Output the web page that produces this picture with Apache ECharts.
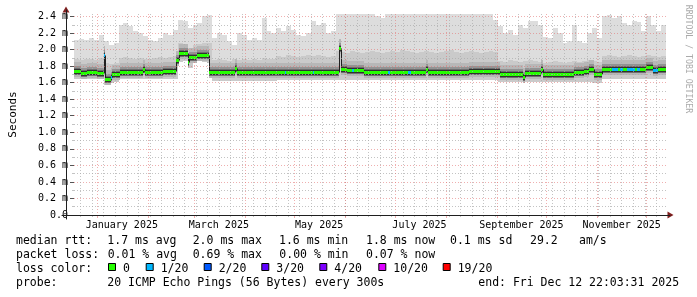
<!DOCTYPE html>
<html><head><meta charset="utf-8">
<script src="https://cdn.jsdelivr.net/npm/echarts@6/dist/echarts.min.js"></script>
<style>html,body{margin:0;padding:0;background:#fff}#c{width:697px;height:297px}</style>
</head><body><div id="c"></div>
<script>
// ---------- data ----------
const startTime = '2024-12-17 22:03:31';
const endTime = '2025-12-12 22:03:31';
const binStart = '2024-12-18';
const binDays = 3;

const smokeMax = [2.12,2.13,2.12,2.14,2.12,2.18,2.10,2.06,2.08,2.30, 2.32,2.28,2.22,2.20,2.16,2.12,2.10,2.14,2.20,2.18,
  2.24,2.36,2.35,2.26,2.30,2.32,2.40,2.42,2.14,2.20, 2.18,2.10,2.05,2.20,2.18,2.12,2.14,2.12,2.38,2.22,
  2.20,2.26,2.22,2.28,2.24,2.18,2.16,2.20,2.34,2.30, 2.32,2.20,2.22,2.43,2.43,2.43,2.43,2.43,2.43,2.43,
  2.43,2.40,2.38,2.43,2.43,2.43,2.43,2.43,2.43,2.43, 2.43,2.43,2.43,2.43,2.43,2.43,2.43,2.43,2.43,2.43,
  2.43,2.43,2.43,2.43,2.43,2.36,2.28,2.20,2.24,2.18, 2.30,2.26,2.34,2.35,2.30,2.15,2.14,2.26,2.20,2.08,
  2.10,2.30,2.10,2.08,2.20,2.26,2.14,2.40,2.42,2.38, 2.40,2.32,2.30,2.34,2.33,2.22,2.40,2.30,2.22,2.30];
const smokeUpper = [1.88,1.87,1.89,1.88,1.87,1.90,1.84,1.82,1.84,1.90, 1.91,1.90,1.89,1.90,1.88,1.89,1.90,1.91,1.90,1.91,
  1.92,2.08,2.07,2.02,2.06,2.07,2.08,2.08,1.87,1.88, 1.87,1.86,1.88,1.87,1.88,1.87,1.88,1.87,1.90,1.88,
  1.88,1.92,1.91,1.93,1.92,1.91,1.92,1.93,1.92,1.94, 1.92,1.91,1.92,1.98,1.97,1.96,1.98,1.97,1.96,1.97,
  1.98,1.97,1.96,1.97,1.98,1.97,1.99,1.98,1.97,1.96, 1.97,1.98,1.97,1.96,1.97,1.98,1.99,1.97,1.96,1.97,
  1.98,1.97,1.96,1.97,1.98,1.97,1.86,1.85,1.87,1.86, 1.85,1.86,1.87,1.86,1.85,1.84,1.85,1.86,1.85,1.84,
  1.85,1.86,1.85,1.86,1.87,1.86,1.85,1.92,1.93,1.92, 1.91,1.92,1.93,1.92,1.91,1.92,1.94,1.92,1.91,1.92];
const smokeMin = [1.65,1.65,1.65,1.65,1.65,1.65,1.57,1.59,1.61,1.64, 1.64,1.64,1.64,1.64,1.64,1.64,1.64,1.64,1.64,1.64,
  1.64,1.85,1.86,1.78,1.85,1.86,1.85,1.84,1.62,1.62, 1.62,1.62,1.62,1.62,1.62,1.62,1.62,1.62,1.62,1.62,
  1.62,1.63,1.63,1.63,1.63,1.63,1.63,1.63,1.63,1.63, 1.63,1.63,1.63,1.63,1.63,1.63,1.63,1.63,1.63,1.63,
  1.63,1.63,1.63,1.63,1.63,1.63,1.63,1.63,1.63,1.63, 1.63,1.63,1.63,1.63,1.63,1.63,1.63,1.63,1.63,1.63,
  1.63,1.63,1.63,1.63,1.63,1.63,1.61,1.61,1.61,1.61, 1.61,1.61,1.61,1.61,1.61,1.61,1.61,1.61,1.61,1.61,
  1.61,1.61,1.61,1.61,1.61,1.60,1.60,1.65,1.65,1.65, 1.65,1.65,1.65,1.65,1.65,1.65,1.65,1.65,1.65,1.65];

const medianDates = ['2024-12-17 22:03','2024-12-22','2024-12-26','2025-01-01','2025-01-05','2025-01-06','2025-01-09 12:00','2025-01-10',
  '2025-01-15','2025-01-29','2025-01-30','2025-02-10','2025-02-18','2025-02-20','2025-02-25','2025-02-26','2025-03-03','2025-03-10',
  '2025-03-26','2025-03-27','2025-04-14','2025-04-25','2025-04-26','2025-05-12','2025-05-13','2025-05-28','2025-05-29','2025-06-02',
  '2025-06-05','2025-06-06','2025-06-12','2025-06-27','2025-06-28','2025-07-09','2025-07-11','2025-07-20','2025-07-21','2025-08-15',
  '2025-09-03','2025-09-17','2025-09-18','2025-09-28','2025-09-29','2025-10-18','2025-10-24','2025-10-27','2025-10-30','2025-11-04',
  '2025-11-10','2025-11-14','2025-11-15','2025-11-17','2025-11-19','2025-11-24','2025-11-25','2025-11-27','2025-12-01','2025-12-05',
  '2025-12-08','2025-12-09'];
const medianValues = [1.74,1.72,1.73,1.72,1.94,1.65,1.67,1.70,
  1.725,1.77,1.73,1.745,1.87,1.955,1.85,1.915,1.94,1.73,
  1.78,1.725,1.73,1.73,1.73,1.725,1.725,2.02,1.76,1.75,
  1.75,1.75,1.73,1.73,1.73,1.73,1.73,1.77,1.73,1.745,
  1.705,1.67,1.72,1.76,1.705,1.725,1.74,1.76,1.705,1.76,
  1.76,1.76,1.765,1.76,1.765,1.76,1.765,1.76,1.79,1.755,
  1.76,1.765];
const medianLoss = [0,0,0,0,1,0,1,0, 0,0,0,0,0,0,0,0,0,0, 0,0,0,1,0,1,0,0,0,0, 1,0,0,1,0,1,0,0,0,0,
  0,0,0,0,0,0,0,0,0,0, 1,0,1,0,1,0,1,0,0,1, 0,0];

const lossColors = ['#26ff00','#00b8ff','#0059ff','#5e00ff','#7e00ff','#dd00ff','#ff0000'];
const lossLabels = ['0','1/20','2/20','3/20','4/20','10/20','19/20'];

const yTickValues = [0,0.2,0.4,0.6,0.8,1.0,1.2,1.4,1.6,1.8,2.0,2.2,2.4];
const yTickLabels = ['0.0','0.2 m','0.4 m','0.6 m','0.8 m','1.0 m','1.2 m','1.4 m','1.6 m','1.8 m','2.0 m','2.2 m','2.4 m'];
const yMinorValues = [0.1,0.3,0.5,0.7,0.9,1.1,1.3,1.5,1.7,1.9,2.1,2.3];
const yMax = 2.43;

const monthStarts = ['2025-01-01','2025-02-01','2025-03-01','2025-04-01','2025-05-01','2025-06-01',
  '2025-07-01','2025-08-01','2025-09-01','2025-10-01','2025-11-01','2025-12-01'];
const firstWeekLine = '2024-12-22';
const xLabelDates = ['2025-01-16','2025-03-16','2025-05-16','2025-07-16','2025-09-16','2025-11-16'];
const xLabels = ['January 2025','March 2025','May 2025','July 2025','September 2025','November 2025'];

const legendRows = [
  ['median rtt:','1.7 ms avg','2.0 ms max','1.6 ms min','1.8 ms now','0.1 ms sd','29.2','am/s'],
  ['packet loss:','0.01 % avg','0.69 % max','0.00 % min','0.07 % now'],
  ['probe:','20 ICMP Echo Pings (56 Bytes) every 300s','end: Fri Dec 12 22:03:31 2025']
];
const lossTitle = 'loss color:';
const watermark = 'RRDTOOL / TOBI OETIKER';
const yAxisName = 'Seconds';

// ---------- layout / style ----------
const legendRowX = [[16,107.3,192.7,279,366,450,530,579],[16,107.7,192.7,279.3,366],[16,107.3,478.3]];
const legendRowY = [241,255,283];
const lossRowY = 269;
const lossBoxX = [108,145.7,203.7,261.3,319.3,378.3,442.7];
const gridCol = 'rgba(170,170,170,0.7)';
const mgridCol = 'rgba(225,110,110,0.55)';
const arrowCol = '#801f1f';
const axisCol = '#1f1f1f';
const mono = '"DejaVu Sans Mono", monospace';
const legendFont = '11.5px ' + mono;
const dots = {type:[1,2], cap:'butt', width:1};

function T(s){
  const m = s.match(/^(\d{4})-(\d{2})-(\d{2})(?: (\d{2}):(\d{2})(?::(\d{2}))?)?$/);
  return new Date(+m[1], +m[2]-1, +m[3], +(m[4]||0), +(m[5]||0), +(m[6]||0)).getTime();
}
const DAY = 86400000;
const tStart = T(startTime), tEnd = T(endTime);
const binTs = smokeMax.map((_, i) => T(binStart) + i * binDays * DAY);
const medTs = medianDates.map(T);
const monthTs = monthStarts.map(T);
const weekTs = [];
for (let t = T(firstWeekLine); t < tEnd; t += 7 * DAY) weekTs.push(t);
const xLabelTs = xLabelDates.map(T);

function nearestIdx(arr, v){ let b = 0; arr.forEach((a, i) => { if (Math.abs(a - v) < Math.abs(arr[b] - v)) b = i; }); return b; }

const smokeData = binTs.map((t, i) => [t, smokeMin[i], smokeUpper[i], smokeMax[i]]);
const medData = medTs.map((t, i) => [t, medianValues[i], medianLoss[i]]);

function renderSmoke(params, api){
  const i = params.dataIndex, cs = params.coordSys;
  const xa = Math.round(api.coord([binTs[i], 0])[0]);
  const xb = Math.round(i + 1 < binTs.length ? api.coord([binTs[i+1], 0])[0] : cs.x + cs.width);
  const py = v => Math.max(cs.y, Math.round(api.coord([binTs[i], v])[1]));
  const yMx = py(api.value(3)), yUp = py(api.value(2)), yMn = py(api.value(1));
  return {type:'group', children:[
    {type:'rect', shape:{x:xa, y:yMx, width:xb-xa, height:yMn-yMx}, style:{fill:'#dddddd'}},
    {type:'rect', shape:{x:xa, y:yUp, width:xb-xa, height:yMn-yUp}, style:{fill:'#cacaca'}}
  ]};
}
function renderMedian(params, api){
  const i = params.dataIndex, cs = params.coordSys;
  const xa = Math.round(api.coord([medTs[i], 0])[0]);
  const xb = Math.round(i + 1 < medTs.length ? api.coord([medTs[i+1], 0])[0] : cs.x + cs.width);
  const w = Math.max(1, xb - xa);
  const y = Math.round(api.coord([medTs[i], api.value(1)])[1]);
  const col = lossColors[api.value(2)];
  const ch = [
    {type:'rect', shape:{x:xa, y:y-9, width:w, height:15}, style:{fill:'#b7b7b7'}},
    {type:'rect', shape:{x:xa, y:y-5, width:w, height:9}, style:{fill:'#939393'}},
    {type:'rect', shape:{x:xa, y:y-3, width:w, height:7}, style:{fill:'#6e6e6e'}},
    {type:'rect', shape:{x:xa, y:y-2, width:w, height:5}, style:{fill:'#303030'}}
  ];
  if (i > 0) {
    const yp = Math.round(api.coord([medTs[i], medianValues[i-1]])[1]);
    ch.push({type:'line', shape:{x1:xa+0.5, y1:yp+0.5, x2:xa+0.5, y2:y+0.5}, style:{stroke:'#202020', lineWidth:1}});
  }
  ch.push({type:'rect', shape:{x:xa, y:y-1, width:w, height:3}, style:{fill:col}});
  return {type:'group', children:ch};
}

const off = {show:false};
const graphics = [];
legendRows.forEach((row, r) => row.forEach((txt, k) => graphics.push({
  type:'text', x:legendRowX[r][k], y:legendRowY[r], silent:true,
  style:{text:txt, font:legendFont, fill:'#000', align:'left', verticalAlign:'middle'}
})));
graphics.push({type:'text', x:16, y:lossRowY, silent:true, style:{text:lossTitle, font:legendFont, fill:'#000', verticalAlign:'middle'}});
lossLabels.forEach((lab, k) => {
  graphics.push({type:'rect', silent:true, shape:{x:lossBoxX[k]+0.5, y:lossRowY-5.5, width:7, height:7},
    style:{fill:lossColors[k], stroke:'#000', lineWidth:1}});
  graphics.push({type:'text', x:lossBoxX[k]+15, y:lossRowY, silent:true,
    style:{text:lab, font:legendFont, fill:'#000', verticalAlign:'middle'}});
});
graphics.push({type:'text', x:688, y:59, rotation:-Math.PI/2, silent:true,
  style:{text:watermark, font:'8.2px ' + mono, fill:'#aaaaaa', align:'center', verticalAlign:'middle'}});

const chart = echarts.init(document.getElementById('c'), null, {renderer:'canvas'});
chart.setOption({
  animation:false,
  backgroundColor:'#ffffff',
  grid:[
    {left:66, right:31, top:14, bottom:82},
    {left:62, right:27, top:14, bottom:82},
    {left:66, right:31, top:10, bottom:78}
  ],
  xAxis:[
    {gridIndex:0, position:'bottom', type:'value', min:tStart, max:tEnd, z:10, axisLine:off, axisTick:off, splitLine:off,
     axisLabel:{customValues:xLabelTs, formatter:v => xLabels[nearestIdx(xLabelTs, v)], margin:5,
       fontFamily:mono, fontSize:10, color:'#000', hideOverlap:false}},
    {gridIndex:0, position:'bottom', type:'value', min:tStart, max:tEnd, z:10, axisLine:off, axisLabel:off,
     axisTick:{show:true, customValues:weekTs, length:2, lineStyle:{color:gridCol}},
     splitLine:{show:true, lineStyle:Object.assign({color:gridCol}, dots)}},
    {gridIndex:0, position:'bottom', type:'value', min:tStart, max:tEnd, z:10, axisLine:off, axisLabel:off,
     axisTick:{show:true, customValues:monthTs, length:3, lineStyle:{color:mgridCol}},
     splitLine:{show:true, lineStyle:Object.assign({color:mgridCol}, dots)}},
    {gridIndex:1, position:'bottom', type:'value', min:0, max:1, z:11, axisTick:off, axisLabel:off, splitLine:off,
     axisLine:{show:true, lineStyle:{color:arrowCol, width:0}, symbol:['none','triangle'], symbolSize:[7,6], symbolOffset:[0,0.5]}},
    {gridIndex:1, position:'bottom', type:'value', min:0, max:1, z:12, axisTick:off, axisLabel:off, splitLine:off,
     axisLine:{show:true, lineStyle:{color:axisCol, width:1}}},
    {gridIndex:2, position:'bottom', type:'value', min:0, max:1, show:false}
  ],
  yAxis:[
    {gridIndex:0, position:'left', type:'value', min:0, max:yMax, z:10, axisLine:off,
     name:yAxisName, nameLocation:'middle', nameGap:55,
     nameTextStyle:{fontFamily:mono, fontSize:11, color:'#000'},
     axisTick:{show:true, customValues:yTickValues, length:4, lineStyle:{color:'#555'}},
     axisLabel:{customValues:yTickValues, formatter:v => yTickLabels[nearestIdx(yTickValues, v)], margin:6,
       fontFamily:mono, fontSize:10, color:'#000'},
     splitLine:{show:true, lineStyle:Object.assign({color:mgridCol}, dots)}},
    {gridIndex:0, position:'left', type:'value', min:0, max:yMax, z:10, axisLine:off, axisLabel:off,
     axisTick:{show:true, customValues:yMinorValues, length:2, lineStyle:{color:gridCol}},
     splitLine:{show:true, lineStyle:Object.assign({color:gridCol}, dots)}},
    {gridIndex:1, position:'left', type:'value', min:0, max:1, show:false},
    {gridIndex:2, position:'left', type:'value', min:0, max:1, z:11, axisTick:off, axisLabel:off, splitLine:off,
     axisLine:{show:true, lineStyle:{color:arrowCol, width:0}, symbol:['none','triangle'], symbolSize:[7,6], symbolOffset:[0,0.5]}},
    {gridIndex:2, position:'left', type:'value', min:0, max:1, z:12, axisTick:off, axisLabel:off, splitLine:off,
     axisLine:{show:true, lineStyle:{color:axisCol, width:1}}}
  ],
  series:[
    {type:'custom', xAxisIndex:0, yAxisIndex:0, data:smokeData, renderItem:renderSmoke, silent:true, z:2},
    {type:'custom', xAxisIndex:0, yAxisIndex:0, data:medData, renderItem:renderMedian, silent:true, z:3}
  ],
  graphic:graphics
});
</script>
</body></html>
